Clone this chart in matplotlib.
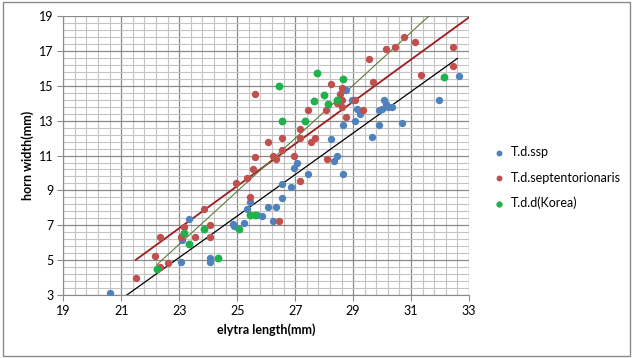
import numpy as np
import matplotlib.pyplot as plt

plt.rcParams['font.family'] = ['Lato', 'DejaVu Sans']

# T.d.ssp
ssp_x = [20.6, 23.05, 24.05, 24.05, 23.35, 23.1, 24.85, 24.9, 25.25, 25.35, 25.45, 25.7, 25.85,
         26.05, 26.25, 26.35, 26.55, 26.55, 26.85, 26.95, 27.05, 27.45, 28.25, 28.35, 28.45, 28.65,
         28.65, 29.05, 28.95, 29.15, 29.25, 29.9, 30.0, 30.05, 30.15, 30.2, 30.35, 29.9, 29.65,
         30.7, 31.95, 32.65, 28.75]
ssp_y = [3.1, 4.9, 5.15, 4.9, 7.35, 6.15, 7.05, 6.95, 7.15, 7.95, 8.35, 7.6, 7.55,
         8.05, 7.25, 8.05, 8.55, 9.35, 9.2, 10.3, 10.55, 9.95, 11.95, 10.7, 10.95, 9.95,
         12.75, 13.0, 14.2, 13.65, 13.4, 13.6, 13.65, 14.2, 13.95, 13.8, 13.8, 12.75, 12.05,
         12.85, 14.2, 15.55, 14.75]

# T.d.septentorionaris
sep_x = [21.5, 22.15, 22.35, 22.6, 22.35, 23.05, 23.15, 23.55, 23.85, 24.05, 24.05, 24.95, 25.35,
         25.45, 25.55, 25.6, 25.6, 26.45, 26.05, 26.25, 26.35, 26.55, 26.55, 26.95, 27.15, 27.15,
         27.15, 27.45, 27.55, 27.7, 28.05, 28.1, 28.25, 28.45, 28.55, 28.6, 28.6, 28.6, 28.75,
         29.05, 29.35, 29.55, 29.7, 30.15, 30.45, 30.75, 31.15, 31.35, 32.45, 32.45]
sep_y = [4.0, 5.25, 4.6, 4.85, 6.3, 6.3, 6.9, 6.3, 7.95, 7.0, 6.35, 9.45, 9.7,
         8.6, 10.25, 10.9, 14.55, 7.25, 11.75, 11.0, 10.8, 12.0, 11.3, 11.0, 12.5, 12.0,
         9.55, 13.6, 11.75, 12.0, 13.6, 10.8, 15.1, 14.0, 14.55, 14.85, 14.2, 13.8, 13.2,
         14.2, 13.6, 16.55, 15.2, 17.1, 17.2, 17.8, 17.5, 15.6, 17.2, 16.15]

# T.d.d(Korea)
kor_x = [22.25, 23.15, 23.35, 23.85, 24.35, 25.05, 25.45, 25.6, 26.45, 26.55, 27.35, 27.65,
         27.75, 28.0, 28.15, 28.45, 28.65, 32.15]
kor_y = [4.5, 6.55, 5.95, 6.8, 5.15, 6.8, 7.6, 7.6, 15.0, 13.0, 13.0, 14.15,
         15.75, 14.45, 13.95, 14.2, 15.4, 15.5]

# linear trendlines: slope, intercept, x-extent
ssp_fit = [1.19, -22.22, 20.6, 32.6]
sep_fit = [1.21, -21.0, 21.5, 33.0]
kor_fit = [1.52, -29.05, 22.22, 32.15]

x_ticks = np.arange(19, 34, 2)
y_ticks = np.arange(3, 20, 2)

fig = plt.figure(figsize=(6.33, 3.58), dpi=100)
ax = fig.add_axes([0.1, 0.176, 0.641, 0.779])

ax.set_xlim(19, 33)
ax.set_ylim(3, 19)
ax.set_xticks(x_ticks)
ax.set_yticks(y_ticks)
ax.set_xticks(np.arange(19, 33.01, 0.4), minor=True)
ax.set_yticks(np.arange(3, 19.01, 0.4), minor=True)
ax.grid(which='minor', color='#c4c4c4', lw=0.8)
ax.grid(which='major', color='#8a8a8a', lw=0.9)
ax.set_axisbelow(True)
ax.tick_params(which='minor', length=0)
ax.tick_params(which='major', length=4, color='#8a8a8a', labelsize=9, pad=3)
for s in ['top', 'right']:
    ax.spines[s].set_visible(False)
for s in ['left', 'bottom']:
    ax.spines[s].set_color('#8a8a8a')

for fit, c, lw in [(ssp_fit, 'black', 0.9), (sep_fit, '#9c1c1c', 1.3), (kor_fit, '#5f7a3a', 0.8)]:
    xs = np.array(fit[2:])
    ax.plot(xs, fit[0] * xs + fit[1], color=c, lw=lw, zorder=2)

ax.scatter(ssp_x, ssp_y, s=28, color='#4f81bd', label='T.d.ssp', zorder=3, linewidths=0)
ax.scatter(sep_x, sep_y, s=28, color='#c0504d', label='T.d.septentorionaris', zorder=3, linewidths=0)
ax.scatter(kor_x, kor_y, s=32, color='#1fb14a', label='T.d.d(Korea)', zorder=3, linewidths=0)

ax.set_xlabel('elytra length(mm)', fontsize=9, fontweight='bold', labelpad=5)
ax.set_ylabel('horn width(mm)', fontsize=9, fontweight='bold', labelpad=4)

ax.legend(loc='center left', bbox_to_anchor=(1.03, 0.42), frameon=False, fontsize=9,
          handletextpad=0.0, labelspacing=1.05, markerscale=0.8, borderaxespad=0)

fig.patches.append(plt.Rectangle((0.004, 0.006), 0.992, 0.988, transform=fig.transFigure,
                                 fill=False, edgecolor='#8a8a8a', lw=1))
fig.savefig('out.png', dpi=100)
